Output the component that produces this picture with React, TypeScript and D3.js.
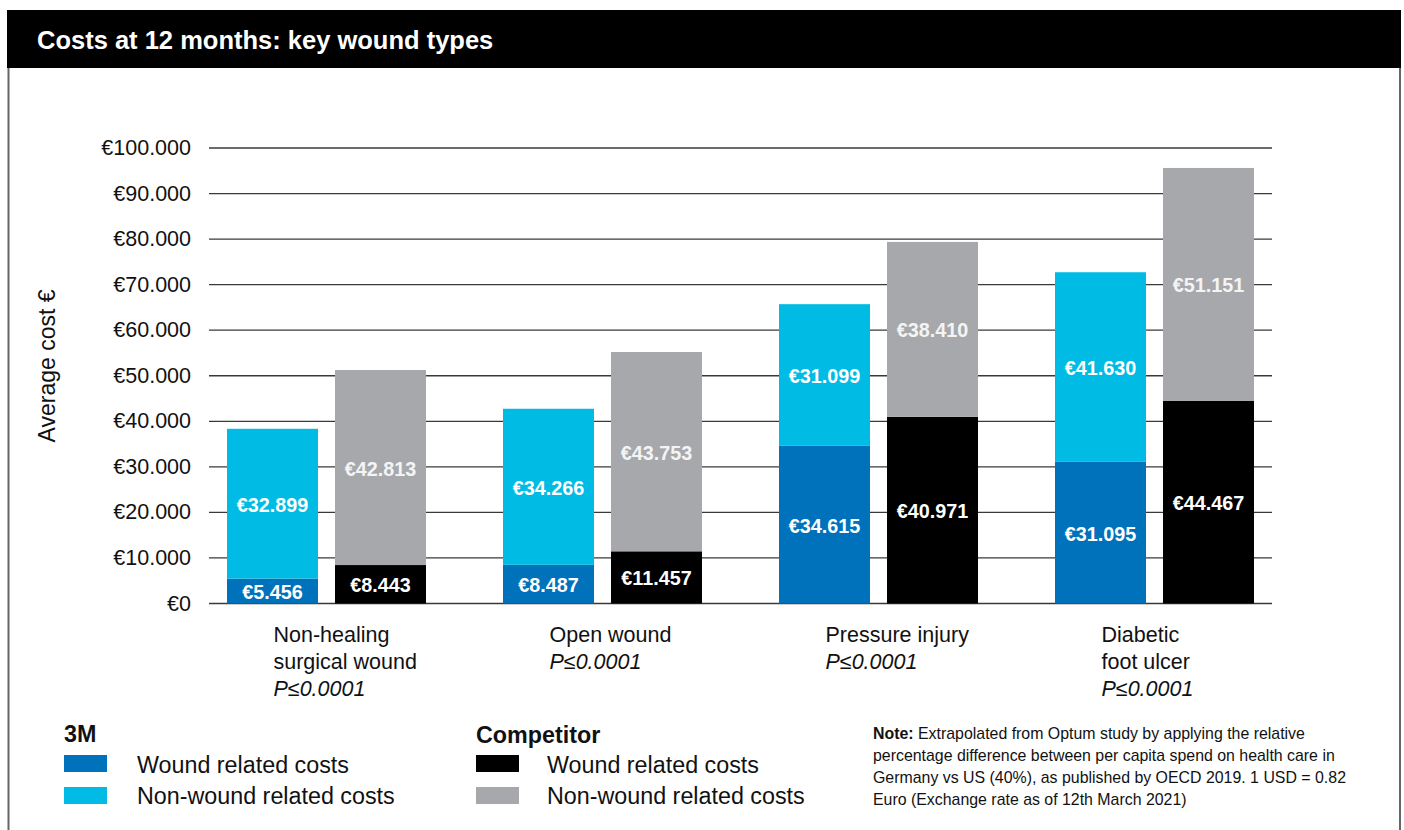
import * as React from 'react';
import * as d3 from 'd3';

const categories = ['Non-healing surgical wound', 'Open wound', 'Pressure injury', 'Diabetic foot ulcer'];
const categoryLines = [
  ['Non-healing', 'surgical wound'],
  ['Open wound'],
  ['Pressure injury'],
  ['Diabetic', 'foot ulcer'],
];
const pValues = ['P≤0.0001', 'P≤0.0001', 'P≤0.0001', 'P≤0.0001'];
const groups = ['3M', 'Competitor'];
const threeMWound = [5456, 8487, 34615, 31095];
const threeMNonWound = [32899, 34266, 31099, 41630];
const compWound = [8443, 11457, 40971, 44467];
const compNonWound = [42813, 43753, 38410, 51151];
const yTicks = [0, 10000, 20000, 30000, 40000, 50000, 60000, 70000, 80000, 90000, 100000];

const colours = {
  wound3M: '#0071bb',
  nonWound3M: '#00bbe4',
  woundComp: '#000000',
  nonWoundComp: '#a7a8ac',
};

const font = '"Liberation Sans", Arial, sans-serif';

const euro = d3.formatLocale({ decimal: ',', thousands: '.', grouping: [3], currency: ['€', ''] }).format('$,');

class App extends React.Component {
  render() {
    const width = 1404;
    const height = 830;
    const gridLeft = 209;
    const gridRight = 1272;

    const y = d3.scaleLinear().domain([0, 100000]).range([603.5, 148]);
    const x = d3.scaleBand().domain(categories).range([188.5, 1292.5]);
    const xSub = d3.scaleBand().domain(groups).range([0, 199]).paddingInner(0.1574);
    const groupOffset = (x.bandwidth() - 199) / 2;

    const segments: { x: number; y0: number; y1: number; fill: string; label: string; labelFill: string }[] = [];
    categories.forEach((c, i) => {
      const base = (x(c) as number) + groupOffset;
      const x3 = base + (xSub('3M') as number);
      const xc = base + (xSub('Competitor') as number);
      segments.push({ x: x3, y0: 0, y1: threeMWound[i], fill: colours.wound3M, label: euro(threeMWound[i]), labelFill: '#fff' });
      segments.push({ x: x3, y0: threeMWound[i], y1: threeMWound[i] + threeMNonWound[i], fill: colours.nonWound3M, label: euro(threeMNonWound[i]), labelFill: '#fff' });
      segments.push({ x: xc, y0: 0, y1: compWound[i], fill: colours.woundComp, label: euro(compWound[i]), labelFill: '#fff' });
      segments.push({ x: xc, y0: compWound[i], y1: compWound[i] + compNonWound[i], fill: colours.nonWoundComp, label: euro(compNonWound[i]), labelFill: '#f4f4f4' });
    });

    const bw = xSub.bandwidth();

    return (
      <svg width={width} height={height} style={{ position: 'absolute', left: 0, top: 0, background: '#fff' }} fontFamily={font}>
        <rect x={7} y={10} width={1394} height={58} fill="#000" />
        <text x={37} y={49} fill="#fff" fontSize={25.5} fontWeight="bold">Costs at 12 months: key wound types</text>
        <line x1={8.5} x2={8.5} y1={68} y2={830} stroke="#666" strokeWidth={2} />
        <line x1={1400} x2={1400} y1={68} y2={830} stroke="#666" strokeWidth={2} />

        {yTicks.map(t => (
          <g key={t}>
            <line x1={gridLeft} x2={gridRight} y1={y(t)} y2={y(t)} stroke="#3a3a3a" strokeWidth={1.3} />
            <text x={191} y={y(t)} textAnchor="end" dominantBaseline="central" fontSize={21.5} fill="#111">{euro(t)}</text>
          </g>
        ))}

        <text transform={`translate(55,366) rotate(-90)`} textAnchor="middle" fontSize={23} fill="#111">Average cost €</text>

        {segments.map((s, i) => (
          <g key={i}>
            <rect x={s.x} y={y(s.y1)} width={bw} height={y(s.y0) - y(s.y1)} fill={s.fill} />
            <text x={s.x + bw / 2} y={(y(s.y0) + y(s.y1)) / 2 + 1} textAnchor="middle" dominantBaseline="central"
              fontSize={19.8} fontWeight="bold" fill={s.labelFill}>{s.label}</text>
          </g>
        ))}

        {categories.map((c, i) => {
          const left = (x(c) as number) + x.bandwidth() / 2 - 53;
          const lines = categoryLines[i];
          return (
            <g key={c} fontSize={21.5} fill="#111">
              {lines.map((line, j) => (
                <text key={j} x={left} y={635 + j * 27} dominantBaseline="central">{line}</text>
              ))}
              <text x={left} y={635 + lines.length * 27} dominantBaseline="central" fontStyle="italic">{pValues[i]}</text>
            </g>
          );
        })}

        <g fontSize={23.3} fill="#111">
          <text x={64} y={734} dominantBaseline="central" fontWeight="bold">3M</text>
          <rect x={64} y={755} width={43} height={17} fill={colours.wound3M} />
          <text x={137} y={765} dominantBaseline="central">Wound related costs</text>
          <rect x={64} y={787} width={43} height={17} fill={colours.nonWound3M} />
          <text x={137} y={796} dominantBaseline="central">Non-wound related costs</text>

          <text x={476} y={735} dominantBaseline="central" fontWeight="bold">Competitor</text>
          <rect x={476} y={755} width={43} height={17} fill={colours.woundComp} />
          <text x={547} y={765} dominantBaseline="central">Wound related costs</text>
          <rect x={476} y={787} width={43} height={17} fill={colours.nonWoundComp} />
          <text x={547} y={796} dominantBaseline="central">Non-wound related costs</text>
        </g>

        <g fontSize={15.9} fill="#111">
          <text x={873} y={733} dominantBaseline="central"><tspan fontWeight="bold">Note:</tspan> Extrapolated from Optum study by applying the relative</text>
          <text x={873} y={755} dominantBaseline="central">percentage difference between per capita spend on health care in</text>
          <text x={873} y={777} dominantBaseline="central">Germany vs US (40%), as published by OECD 2019. 1 USD = 0.82</text>
          <text x={873} y={799} dominantBaseline="central">Euro (Exchange rate as of 12th March 2021)</text>
        </g>
      </svg>
    );
  }
}

export default App;
